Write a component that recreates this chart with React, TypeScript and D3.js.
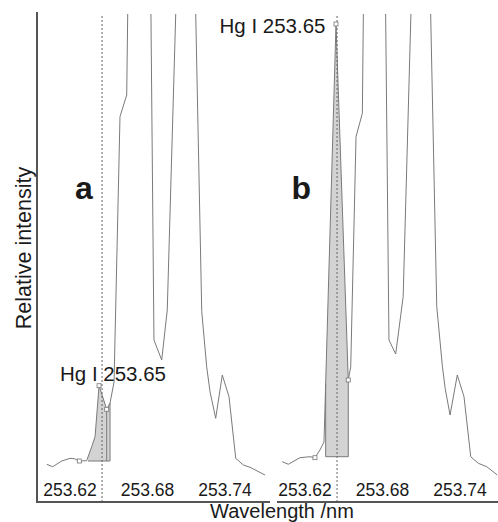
import React from "react";
import * as d3 from "d3";

// ---- data ----
const wavelengthA = [253.6020, 253.6066, 253.6136, 253.6200, 253.6233, 253.6272, 253.6329, 253.6368, 253.6394, 253.6425, 253.6484, 253.6510, 253.6541, 253.6587, 253.6639, 253.6750, 253.6850, 253.6910, 253.6953, 253.7109, 253.7220, 253.7258, 253.7284, 253.7328, 253.7379, 253.7431, 253.7483, 253.7542, 253.7594, 253.7710];
const intensityA = [7.73, 7.23, 8.40, 8.95, 8.87, 8.40, 8.46, 11.33, 13.38, 23.83, 19.0, 20.29, 24.59, 78.96, 83.40, 319.5, 33.20, 29.10, 39.34, 183.8, 39.0, 27.73, 22.60, 17.15, 26.02, 21.58, 8.95, 7.58, 7.11, 5.53];

const wavelengthB = [253.6024, 253.6071, 253.6161, 253.6239, 253.6277, 253.6316, 253.6347, 253.6440, 253.6535, 253.6554, 253.6595, 253.6644, 253.6738, 253.6850, 253.6902, 253.6960, 253.7107, 253.7220, 253.7264, 253.7285, 253.7323, 253.7379, 253.7431, 253.7483, 253.7542, 253.7607, 253.7689];
const intensityB = [8.26, 7.73, 9.08, 9.28, 9.08, 10.66, 12.3, 97.95, 25.0, 27.73, 74.86, 79.65, 325.2, 33.2, 30.33, 42.07, 184.0, 40.02, 27.73, 23.30, 17.83, 26.02, 21.58, 9.28, 7.93, 7.23, 5.53];

const tickValues = [253.62, 253.68, 253.74];
const hgWavelength = 253.6448;
const lineLabel = "Hg I 253.65";
const panelNames = ["a", "b"];

const fillRangeA = [253.6339, 253.6510];
const fillRangeB = [253.6360, 253.6535];
const fillBaseA = 8.4;
const fillBaseB = 9.28;
const splitLinesA = [253.6484, 253.6510];
const splitLinesB = [253.6360, 253.6535];
const markersA = [253.6272, 253.6425, 253.6484];
const markersB = [253.6277, 253.6440, 253.6535];

const FONT = "'Liberation Sans', Arial, Helvetica, sans-serif";
const LINE = "#7a7a7a";
const AXIS = "#555";
const TEXT = "#1a1a1a";

const y = d3.scaleLinear().domain([0, 100]).range([502, 14]);

function interp(xs: number[], ys: number[], w: number) {
  for (let i = 0; i < xs.length - 1; i++) {
    if (w >= xs[i] && w <= xs[i + 1]) {
      const t = (w - xs[i]) / (xs[i + 1] - xs[i]);
      return ys[i] + t * (ys[i + 1] - ys[i]);
    }
  }
  return ys[ys.length - 1];
}

function Panel(props: {
  id: string; offset: number; xs: number[]; ys: number[]; fillRange: number[]; base: number;
  splits: number[]; markers: number[]; name: string; nameX: number; labelX: number; labelY: number;
  clipLeft: number; clipRight: number;
}) {
  const { id, offset, xs, ys, fillRange, base, splits, markers, name, nameX, labelX, labelY, clipLeft, clipRight } = props;
  const x = d3.scaleLinear().domain([253.62, 253.74]).range([70 + offset, 225 + offset]);
  const pts: [number, number][] = xs.map((w, i) => [w, ys[i]]);
  const line = d3.line<[number, number]>().x(d => x(d[0])).y(d => y(d[1]));
  const fillPts: [number, number][] = [[fillRange[0], interp(xs, ys, fillRange[0])]];
  pts.forEach(p => { if (p[0] > fillRange[0] && p[0] < fillRange[1]) fillPts.push(p); });
  fillPts.push([fillRange[1], interp(xs, ys, fillRange[1])]);
  const area = d3.area<[number, number]>().x(d => x(d[0])).y0(y(base)).y1(d => y(d[1]));
  return (
    <g>
      <defs>
        <clipPath id={id}>
          <rect x={clipLeft} y={14} width={clipRight - clipLeft} height={488} />
        </clipPath>
      </defs>
      <g clipPath={`url(#${id})`}>
        <path d={area(fillPts) || ""} fill="#d3d3d3" stroke="none" />
        <line x1={x(fillRange[0])} x2={x(fillRange[1])} y1={y(base)} y2={y(base)} stroke={LINE} strokeWidth={1} />
        {splits.map((w, i) => (
          <line key={i} x1={x(w)} x2={x(w)} y1={y(base)} y2={y(interp(xs, ys, w))} stroke={LINE} strokeWidth={1} />
        ))}
        <path d={line(pts) || ""} fill="none" stroke={LINE} strokeWidth={1} />
        <line x1={x(hgWavelength)} x2={x(hgWavelength)} y1={12} y2={502} stroke="#666" strokeWidth={1} strokeDasharray="2,2" />
        {markers.map((w, i) => (
          <rect key={i} x={x(w) - 2} y={y(interp(xs, ys, w)) - 2} width={4} height={4} fill="#fff" stroke="#777" strokeWidth={0.8} />
        ))}
      </g>
      {tickValues.map((t, i) => (
        <text key={i} x={x(t)} y={495.5} textAnchor="middle" fontSize={17.5} fontFamily={FONT} fill={TEXT}>{t.toFixed(2)}</text>
      ))}
      <text x={nameX} y={199} fontSize={32} fontWeight="bold" fontFamily={FONT} fill={TEXT}>{name}</text>
      <text x={labelX} y={labelY} fontSize={20.5} fontFamily={FONT} fill={TEXT}>{lineLabel}</text>
    </g>
  );
}

export default function App() {
  return (
    <svg width={498} height={522} style={{ position: "absolute", left: 0, top: 0, background: "#fff" }}>
      <rect x={0} y={0} width={498} height={522} fill="#fff" />
      <Panel id="clipA" offset={0} xs={wavelengthA} ys={intensityA} fillRange={fillRangeA} base={fillBaseA}
        splits={splitLinesA} markers={markersA} name={panelNames[0]} nameX={75} labelX={60} labelY={380.5}
        clipLeft={38} clipRight={270} />
      <Panel id="clipB" offset={235} xs={wavelengthB} ys={intensityB} fillRange={fillRangeB} base={fillBaseB}
        splits={splitLinesB} markers={markersB} name={panelNames[1]} nameX={291.5} labelX={219.5} labelY={33}
        clipLeft={275} clipRight={498} />
      <line x1={37} x2={37} y1={12} y2={502} stroke={AXIS} strokeWidth={2} />
      <line x1={36} x2={270} y1={502} y2={502} stroke={AXIS} strokeWidth={2} />
      <line x1={277} x2={498} y1={502} y2={502} stroke={AXIS} strokeWidth={2} />
      <text transform="translate(31,248) rotate(-90)" textAnchor="middle" fontSize={21.5} fontFamily={FONT} fill={TEXT}>Relative intensity</text>
      <text x={282} y={517.5} textAnchor="middle" fontSize={20} fontFamily={FONT} fill={TEXT}>Wavelength /nm</text>
    </svg>
  );
}
